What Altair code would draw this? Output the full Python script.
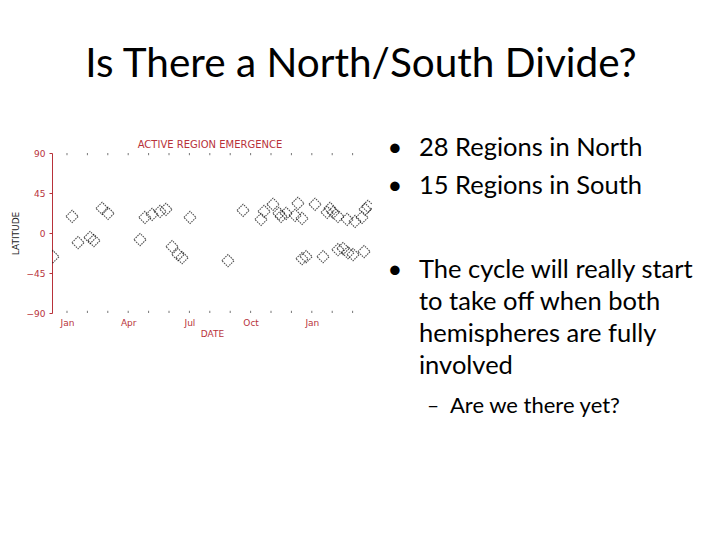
import altair as alt
import pandas as pd

# ---- data (month 0 = 1 Jan, latitude in degrees) ----
north_month = [0.25, 1.72, 2.01, 3.82, 4.17, 4.56, 4.85, 6.03, 8.63, 9.51,
               9.66, 10.10, 10.39, 10.49, 10.74, 11.18, 11.32, 11.52, 12.16, 12.75,
               12.89, 13.04, 13.28, 13.73, 14.12, 14.46, 14.61, 14.75]
north_lat = [18.7, 27.7, 22.1, 17.5, 20.9, 24.3, 26.6, 17.5, 25.5, 15.3,
             24.3, 32.3, 22.1, 18.7, 22.1, 19.8, 33.4, 16.4, 32.3, 23.2,
             27.7, 23.2, 18.7, 15.3, 13.0, 17.5, 26.6, 30.0]
south_month = [-0.69, 0.54, 1.13, 1.32, 3.58, 5.15, 5.44, 5.64, 7.89, 11.52,
               11.72, 12.55, 13.28, 13.53, 13.77, 14.02, 14.56]
south_lat = [-26.6, -10.8, -5.1, -8.5, -7.4, -15.3, -24.3, -27.7, -31.1, -28.9,
             -26.6, -26.6, -18.7, -17.5, -22.1, -24.3, -20.9]

month_ticks = list(range(0, 15))
label_months = [0, 3, 6, 9, 12]
label_names = ["Jan", "Apr", "Jul", "Oct", "Jan"]
lat_ticks = [-90, -45, 0, 45, 90]

plot_title = "ACTIVE REGION EMERGENCE"
slide_title = "Is There a North/South Divide?"
bullets = ["28 Regions in North", "15 Regions in South", "The cycle will really start"]
continuation = ["to take off when both", "hemispheres are fully", "involved"]
sub_bullet = "Are we there yet?"

RED = "#b8323a"
FONT = "DejaVu Sans"
SLIDE_FONT = "Lato"

pts = pd.DataFrame({
    "month": north_month + south_month,
    "lat": north_lat + south_lat,
})
ticks = pd.DataFrame({"m": month_ticks})

label_expr = " : ".join(
    f"datum.value == {m} ? '{n}'" for m, n in zip(label_months, label_names)
) + " : ''"

xscale = alt.Scale(domain=[-0.735, 14.95], nice=False, zero=False)
yscale = alt.Scale(domain=[-90, 90], nice=False)

xaxis = alt.Axis(values=label_months, labelExpr=label_expr, domain=False,
                 ticks=False, grid=False, labelPadding=5, labelColor=RED,
                 labelFont=FONT, labelFontSize=9, labelOverlap=False,
                 title="DATE", titleColor=RED, titleFont=FONT, titleFontSize=9,
                 titleFontWeight="normal", titlePadding=2)
yaxis = alt.Axis(values=lat_ticks, domainColor=RED, tickColor=RED,
                 tickSize=3, labelPadding=4, labelColor=RED, labelFont=FONT,
                 labelFontSize=9, labelOverlap=False, labelFlush=False,
                 grid=False, title="LATITUDE",
                 titleColor="#222222", titleFont=FONT, titleFontSize=9,
                 titleFontWeight="normal", titlePadding=6)

points = alt.Chart(pts).mark_point(
    shape="diamond", size=150, filled=False, stroke="#000000",
    strokeWidth=1.1, strokeDash=[1.5, 1], clip=True
).encode(
    x=alt.X("month:Q", scale=xscale, axis=xaxis),
    y=alt.Y("lat:Q", scale=yscale, axis=yaxis),
)

top_ticks = alt.Chart(ticks).mark_rule(color="#777777", strokeWidth=1).encode(
    x=alt.X("m:Q", scale=xscale, axis=xaxis),
    y=alt.YDatum(90, scale=yscale, axis=yaxis), y2=alt.datum(87.5)
)
bottom_ticks = alt.Chart(ticks).mark_rule(color="#777777", strokeWidth=1).encode(
    x=alt.X("m:Q", scale=xscale, axis=xaxis),
    y=alt.YDatum(-90, scale=yscale, axis=yaxis), y2=alt.datum(-87.5)
)


def text_layer(t, x, y, size, align="left", font=SLIDE_FONT, color="#000000"):
    return alt.Chart(pd.DataFrame({"t": [t]})).mark_text(
        align=align, baseline="alphabetic", font=font, fontSize=size, color=color
    ).encode(x=alt.value(x), y=alt.value(y), text="t:N")


layers = [points, top_ticks, bottom_ticks]
layers.append(text_layer(plot_title, 158, -5, 10, align="center", font=FONT, color=RED))
layers.append(text_layer(slide_title, 309, -76, 40.5, align="center"))

bullet_y = [3, 41, 125]
for t, by in zip(bullets, bullet_y):
    layers.append(text_layer("\u2022", 343, by, 25.5, align="center"))
    layers.append(text_layer(t, 367, by, 25.5))
for t, by in zip(continuation, [157, 189, 221]):
    layers.append(text_layer(t, 367, by, 25.5))
layers.append(text_layer("\u2013", 381, 260, 21, align="center"))
layers.append(text_layer(sub_bullet, 398, 260, 22))

chart = alt.layer(*layers).properties(
    width=320, height=160,
    padding={"left": 44, "top": 145, "right": 340, "bottom": 219},
    autosize=alt.AutoSizeParams(type="none"),
    background="white",
).configure_view(stroke=None)

chart.save("out.html", embed_options={"renderer": "svg", "actions": False})
